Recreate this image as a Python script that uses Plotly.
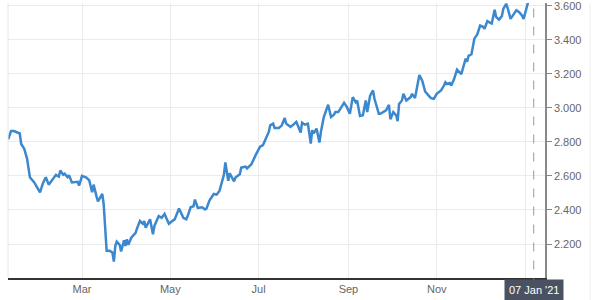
import plotly.graph_objects as go

dates = [
    "2020-01-10", "2020-01-12", "2020-01-14", "2020-01-18", "2020-01-19", "2020-01-21", "2020-01-23", "2020-01-25",
    "2020-01-28", "2020-02-01", "2020-02-03", "2020-02-05", "2020-02-07", "2020-02-10", "2020-02-12", "2020-02-14",
    "2020-02-15", "2020-02-17", "2020-02-18", "2020-02-20", "2020-02-21", "2020-02-23", "2020-02-25", "2020-02-27",
    "2020-02-28", "2020-03-01", "2020-03-04", "2020-03-06", "2020-03-08", "2020-03-09", "2020-03-11", "2020-03-12",
    "2020-03-15", "2020-03-16", "2020-03-18", "2020-03-20", "2020-03-22", "2020-03-23", "2020-03-24", "2020-03-25",
    "2020-03-27", "2020-03-28", "2020-03-30", "2020-03-31", "2020-04-01", "2020-04-02", "2020-04-04", "2020-04-07",
    "2020-04-08", "2020-04-10", "2020-04-12", "2020-04-13", "2020-04-14", "2020-04-17", "2020-04-19", "2020-04-20",
    "2020-04-23", "2020-04-25", "2020-04-27", "2020-04-28", "2020-04-30", "2020-05-03", "2020-05-04", "2020-05-07",
    "2020-05-08", "2020-05-10", "2020-05-12", "2020-05-13", "2020-05-15", "2020-05-17", "2020-05-18", "2020-05-20",
    "2020-05-23", "2020-05-25", "2020-05-26", "2020-05-28", "2020-05-31", "2020-06-02", "2020-06-04", "2020-06-06",
    "2020-06-07", "2020-06-08", "2020-06-10", "2020-06-11", "2020-06-14", "2020-06-15", "2020-06-18", "2020-06-19",
    "2020-06-22", "2020-06-23", "2020-06-25", "2020-06-26", "2020-06-29", "2020-06-30", "2020-07-02", "2020-07-04",
    "2020-07-06", "2020-07-08", "2020-07-09", "2020-07-11", "2020-07-12", "2020-07-15", "2020-07-17", "2020-07-19",
    "2020-07-20", "2020-07-23", "2020-07-25", "2020-07-27", "2020-07-28", "2020-07-30", "2020-07-31", "2020-08-02",
    "2020-08-04", "2020-08-06", "2020-08-07", "2020-08-08", "2020-08-10", "2020-08-12", "2020-08-13", "2020-08-15",
    "2020-08-18", "2020-08-20", "2020-08-22", "2020-08-23", "2020-08-25", "2020-08-27", "2020-08-29", "2020-08-31",
    "2020-09-02", "2020-09-03", "2020-09-04", "2020-09-06", "2020-09-07", "2020-09-09", "2020-09-11", "2020-09-13",
    "2020-09-14", "2020-09-16", "2020-09-18", "2020-09-19", "2020-09-22", "2020-09-23", "2020-09-25", "2020-09-27",
    "2020-09-29", "2020-09-30", "2020-10-02", "2020-10-04", "2020-10-05", "2020-10-06", "2020-10-08", "2020-10-09",
    "2020-10-11", "2020-10-14", "2020-10-15", "2020-10-17", "2020-10-18", "2020-10-20", "2020-10-22", "2020-10-24",
    "2020-10-26", "2020-10-28", "2020-10-30", "2020-11-01", "2020-11-03", "2020-11-04", "2020-11-06", "2020-11-07",
    "2020-11-08", "2020-11-10", "2020-11-11", "2020-11-13", "2020-11-15", "2020-11-18", "2020-11-21", "2020-11-22",
    "2020-11-23", "2020-11-25", "2020-11-27", "2020-11-29", "2020-12-01", "2020-12-03", "2020-12-04", "2020-12-06",
    "2020-12-08", "2020-12-09", "2020-12-11", "2020-12-12", "2020-12-14", "2020-12-16", "2020-12-17", "2020-12-19",
    "2020-12-20", "2020-12-22", "2020-12-24", "2020-12-26", "2020-12-28", "2020-12-30", "2020-12-31", "2021-01-01",
    "2021-01-03", "2021-01-05", "2021-01-07",
]

prices = [
    2.815, 2.865, 2.864, 2.850, 2.788, 2.762, 2.704, 2.593,
    2.562, 2.504, 2.558, 2.593, 2.549, 2.581, 2.607, 2.597,
    2.632, 2.607, 2.613, 2.593, 2.605, 2.562, 2.562, 2.566,
    2.543, 2.601, 2.591, 2.574, 2.504, 2.549, 2.480, 2.451,
    2.494, 2.432, 2.160, 2.160, 2.150, 2.097, 2.189, 2.214,
    2.195, 2.156, 2.222, 2.189, 2.228, 2.195, 2.237, 2.266,
    2.292, 2.335, 2.319, 2.335, 2.296, 2.345, 2.257, 2.306,
    2.364, 2.354, 2.377, 2.354, 2.319, 2.339, 2.345, 2.409,
    2.389, 2.354, 2.345, 2.364, 2.416, 2.422, 2.461, 2.412,
    2.416, 2.403, 2.409, 2.455, 2.494, 2.490, 2.514, 2.572,
    2.607, 2.680, 2.572, 2.616, 2.568, 2.591, 2.610, 2.649,
    2.655, 2.645, 2.665, 2.669, 2.724, 2.739, 2.772, 2.782,
    2.820, 2.859, 2.898, 2.908, 2.883, 2.883, 2.898, 2.941,
    2.908, 2.889, 2.902, 2.918, 2.898, 2.855, 2.914, 2.902,
    2.908, 2.791, 2.869, 2.850, 2.879, 2.797, 2.859, 2.947,
    3.019, 2.947, 2.960, 2.976, 2.976, 3.005, 3.030, 3.005,
    2.966, 3.015, 3.064, 3.034, 3.044, 2.953, 2.957, 3.044,
    2.976, 3.073, 3.103, 3.054, 2.966, 2.966, 2.976, 2.986,
    3.019, 2.934, 2.976, 2.957, 2.922, 3.024, 3.044, 3.083,
    3.044, 3.064, 3.083, 3.058, 3.103, 3.194, 3.161, 3.097,
    3.077, 3.058, 3.054, 3.083, 3.097, 3.103, 3.132, 3.151,
    3.141, 3.147, 3.132, 3.170, 3.225, 3.199, 3.291, 3.272,
    3.307, 3.316, 3.408, 3.433, 3.485, 3.478, 3.466, 3.511,
    3.501, 3.497, 3.578, 3.536, 3.520, 3.540, 3.583, 3.613,
    3.588, 3.524, 3.549, 3.575, 3.563, 3.543, 3.524, 3.559,
    3.618, 3.660, 3.690,
]

x_tick_vals = ["2020-03-01", "2020-05-01", "2020-07-01", "2020-09-01", "2020-11-01", "2021-01-01"]
x_tick_text = ["Mar", "May", "Jul", "Sep", "Nov", ""]
y_tick_vals = [2.2, 2.4, 2.6, 2.8, 3.0, 3.2, 3.4, 3.6]
cursor_date = "2021-01-07"
cursor_label = "07 Jan '21"

fig = go.Figure()
fig.add_trace(go.Scatter(
    x=dates, y=prices, mode="lines",
    line=dict(color="#3c88cf", width=2.5),
    hoverinfo="skip", showlegend=False,
))

fig.update_layout(
    width=600, height=300,
    margin=dict(l=8, r=55, t=0, b=22),
    paper_bgcolor="white", plot_bgcolor="white",
    font=dict(family="Liberation Sans, Arial, sans-serif", size=11, color="#666666"),
    xaxis=dict(
        range=["2020-01-09 21:00", "2021-01-14 19:00"],
        tickvals=x_tick_vals, ticktext=x_tick_text,
        showgrid=True, gridcolor="#ebebeb", gridwidth=1,
        showline=True, linecolor="#333333", linewidth=1.5,
        ticks="", tickfont=dict(size=11, color="#666666"),
        zeroline=False,
    ),
    yaxis=dict(
        range=[2.0, 3.6175], side="right",
        tickvals=y_tick_vals, tickformat=".3f",
        ticklabeloverflow="allow",
        showgrid=True, gridcolor="#ebebeb", gridwidth=1,
        showline=True, linecolor="#888888", linewidth=1.5,
        ticks="outside", ticklen=5, tickcolor="#888888",
        tickfont=dict(size=11, color="#666666"),
        zeroline=False,
    ),
    shapes=[
        dict(type="line", xref="paper", yref="paper", x0=0, x1=0, y0=0, y1=1,
             line=dict(color="#e6e6e6", width=1)),
        dict(type="line", xref="x", yref="paper", x0=cursor_date, x1=cursor_date, y0=-0.1, y1=1,
             line=dict(color="#999999", width=1, dash="dash")),
        dict(type="line", xref="paper", yref="paper", x0=1.0838, x1=1.0838, y0=-0.1, y1=1,
             line=dict(color="#eeeeee", width=1)),
    ],
    annotations=[
        dict(x=cursor_date, xref="x", y=0, yref="paper", yanchor="top", yshift=-1,
             text=cursor_label, showarrow=False,
             font=dict(size=11, color="white", family="Liberation Sans, Arial, sans-serif"),
             bgcolor="#4a5262", borderpad=4),
    ],
)

fig.write_html("out.html")
